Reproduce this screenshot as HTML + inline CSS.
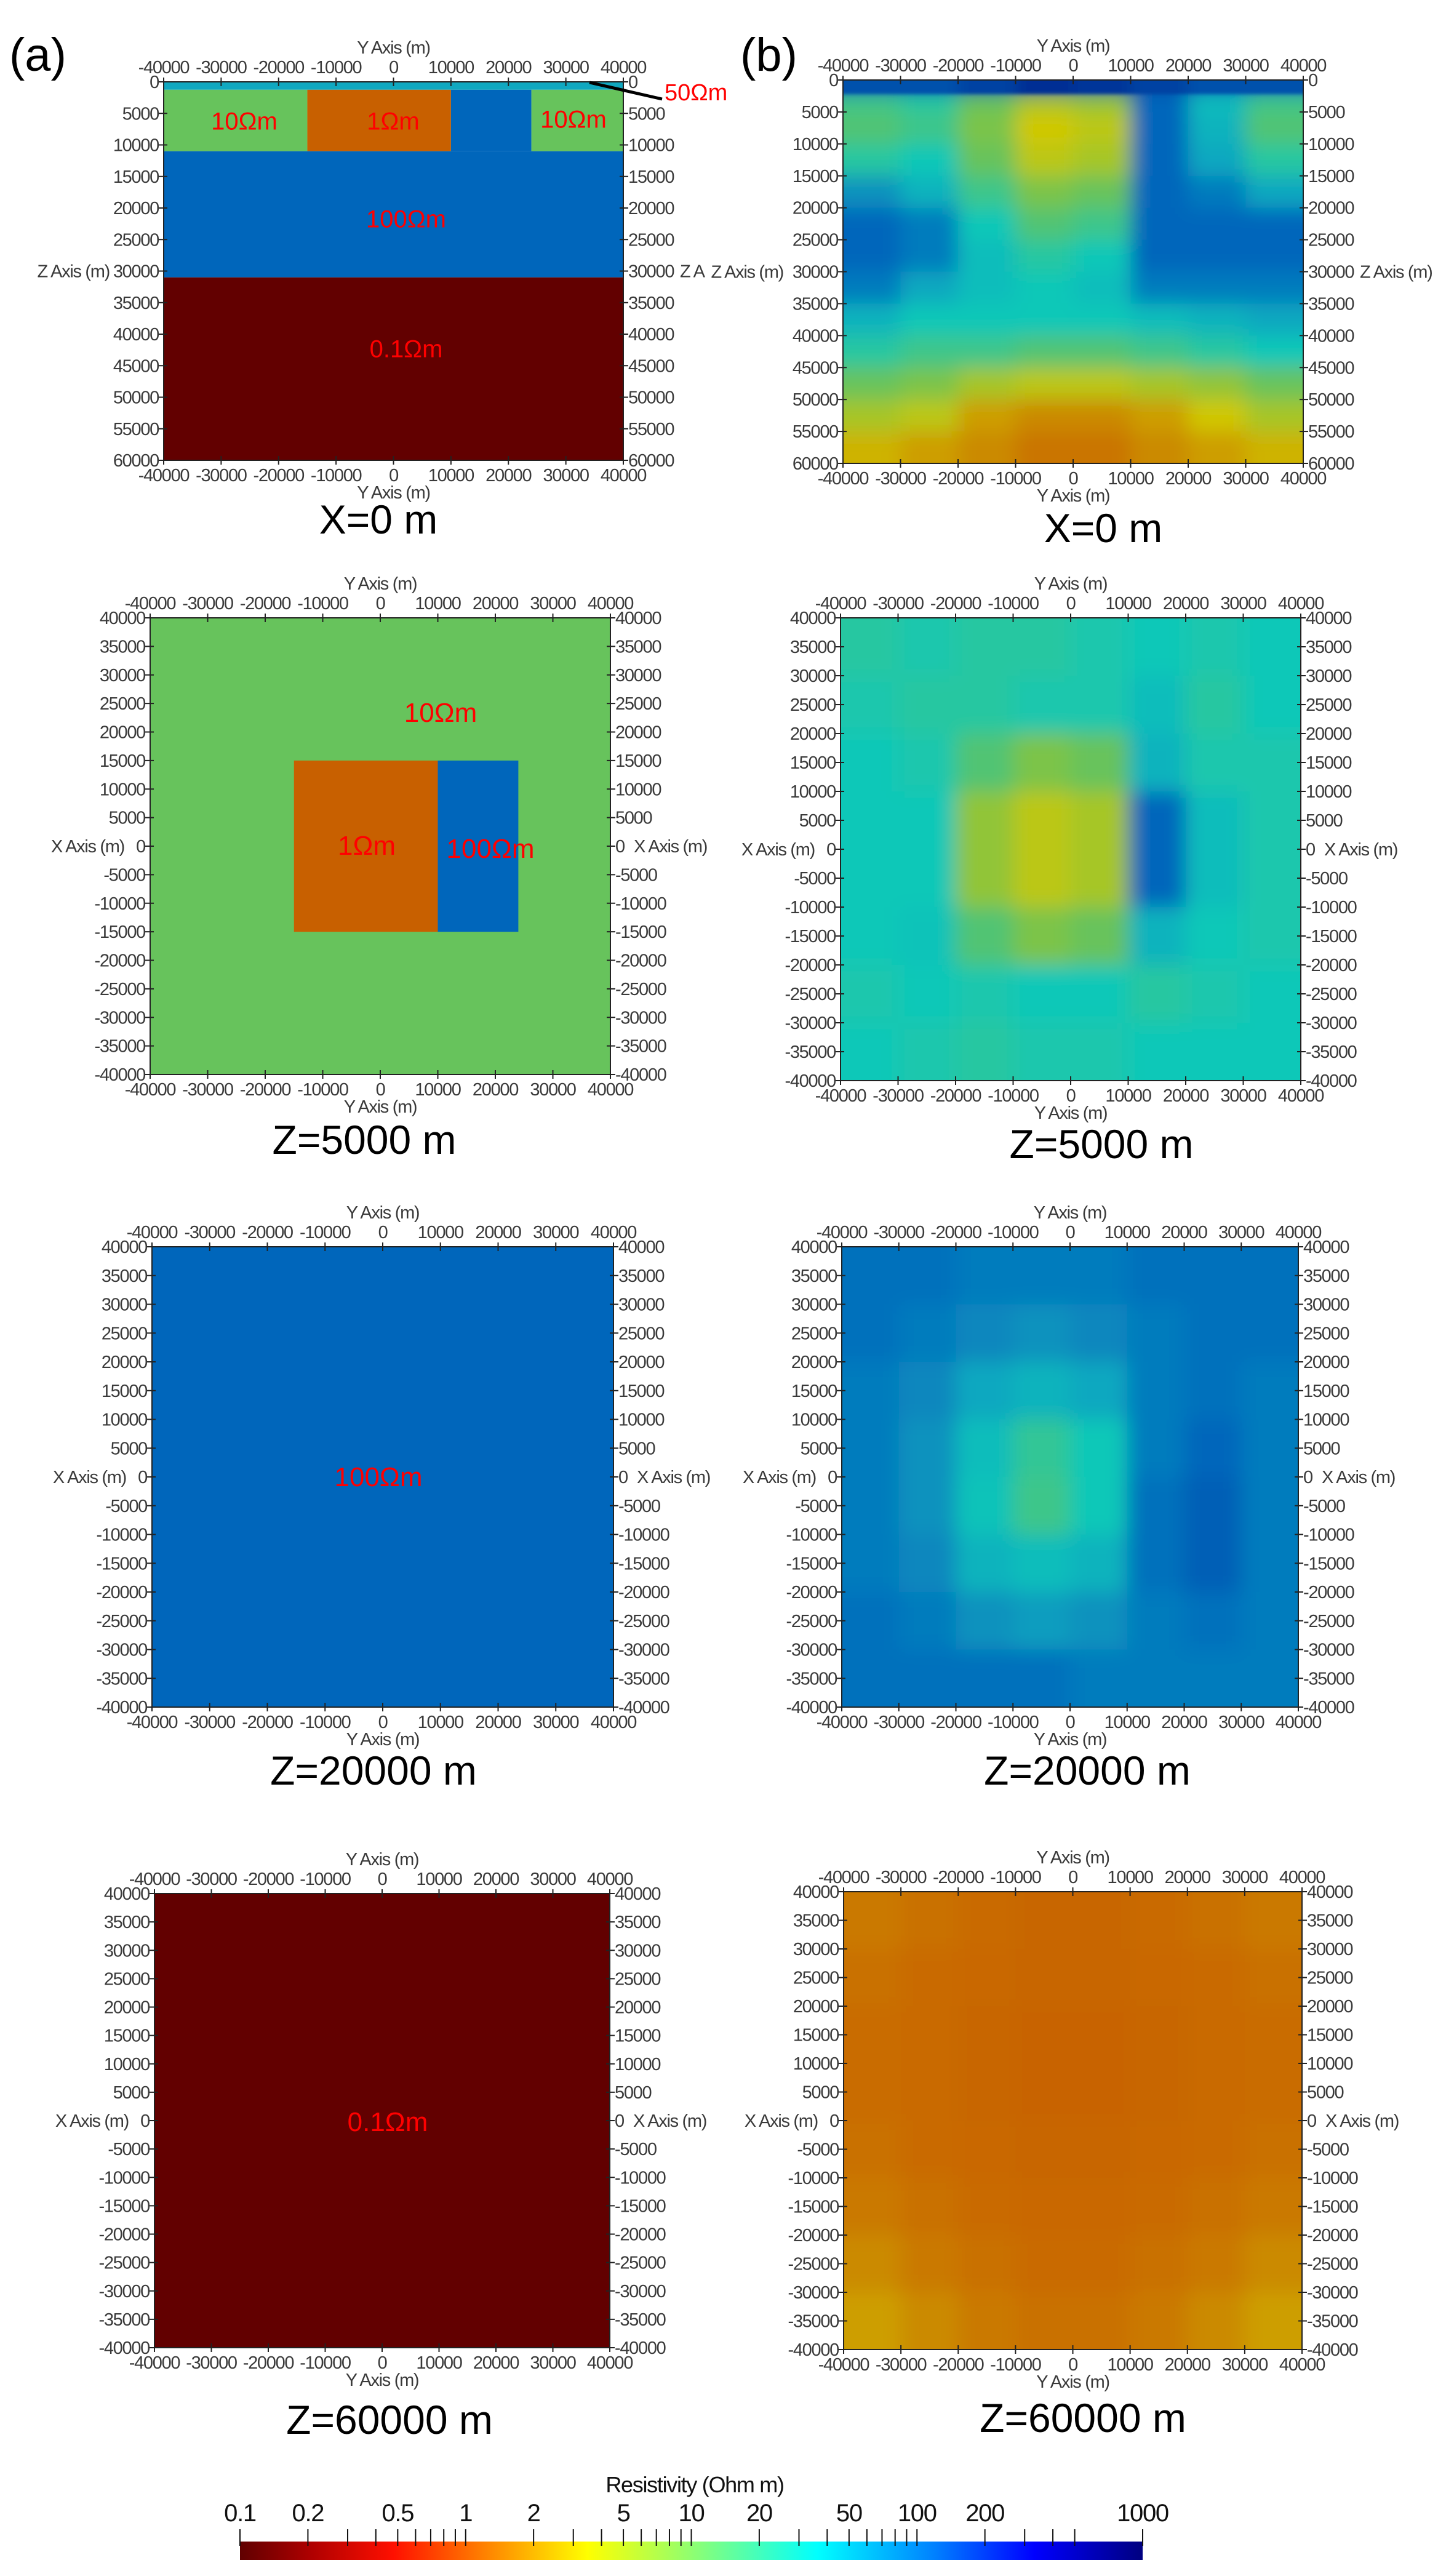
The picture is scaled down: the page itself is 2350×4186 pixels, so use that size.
<!DOCTYPE html>
<html><head><meta charset="utf-8">
<style>
html,body{margin:0;padding:0;background:#fff;}
svg{display:block;}
.tk{font-family:"Liberation Sans Narrow","Liberation Sans",sans-serif;font-size:29px;fill:#3a3a3a;letter-spacing:-1.3px;}
.cap{font-family:"Liberation Sans",sans-serif;font-size:66px;fill:#000;}
.rl{font-family:"Liberation Sans",sans-serif;fill:#ff0000;}
</style></head>
<body>
<svg id="fig" xmlns="http://www.w3.org/2000/svg" width="2350" height="4186" viewBox="0 0 2350 4186">
<defs>
<filter id="blur" x="-10%" y="-10%" width="120%" height="120%"><feGaussianBlur stdDeviation="16"/></filter>
<filter id="blur2" x="-10%" y="-50%" width="120%" height="200%"><feGaussianBlur stdDeviation="12 3"/></filter>
<linearGradient id="jet" x1="0" x2="1" y1="0" y2="0">
<stop offset="0" stop-color="#600000"/><stop offset="0.08" stop-color="#b00000"/><stop offset="0.17" stop-color="#ff1000"/>
<stop offset="0.27" stop-color="#ff8000"/><stop offset="0.385" stop-color="#ffff00"/><stop offset="0.5" stop-color="#90ff70"/>
<stop offset="0.64" stop-color="#00ffff"/><stop offset="0.77" stop-color="#0080ff"/><stop offset="0.88" stop-color="#0000ff"/><stop offset="1" stop-color="#000080"/>
</linearGradient>
</defs>
<text x="15" y="115" style="font-family:'Liberation Sans',sans-serif;font-size:76px">(a)</text>
<text x="1203" y="115" style="font-family:'Liberation Sans',sans-serif;font-size:76px">(b)</text>
</svg>
<script>
// ---- data ----
var yTicks=[-40000,-30000,-20000,-10000,0,10000,20000,30000,40000];
var zTicks=[0,5000,10000,15000,20000,25000,30000,35000,40000,45000,50000,55000,60000];
var xTicks=[40000,35000,30000,25000,20000,15000,10000,5000,0,-5000,-10000,-15000,-20000,-25000,-30000,-35000,-40000];
// model blocks [y0,y1,v0,v1,rho]
var modelX0=[[-40000,40000,0,1250,50],[-40000,-15000,1250,11000,10],[-15000,10000,1250,11000,1],[10000,24000,1250,11000,100],[24000,40000,1250,11000,10],[-40000,40000,11000,31000,100],[-40000,40000,31000,60000,0.1]];
var modelZ5=[[-40000,40000,-40000,40000,10],[-15000,10000,-15000,15000,1],[10000,24000,-15000,15000,100]];
var modelZ20=[[-40000,40000,-40000,40000,100]];
var modelZ60=[[-40000,40000,-40000,40000,0.1]];
// inversion grids (log10 rho)
var colEdges=[-40000,-30000,-20000,-10000,0,10000,20000,30000,40000];
var zEdgesB1=[0,2000,5000,10000,15000,20000,25000,30000,35000,40000,45000,50000,55000,60000];
var xEdges=[40000,30000,20000,10000,0,-10000,-20000,-30000,-40000];
var surfX0=[2.3,2.3,2.5,2.8,2.7,2.5,2.3,2.3];
var invX0=[[2.1,2.1,2.3,2.6,2.5,2.3,2.0,2.0],[1.2,1.3,1.0,0.7,0.8,2.0,1.5,1.2],[1.1,1.2,0.9,0.5,0.6,2.0,1.6,1.1],[1.3,1.4,1.0,0.6,0.7,2.0,1.7,1.3],[1.8,1.6,1.2,0.9,1.0,2.0,1.9,1.7],[2.0,1.9,1.4,1.1,1.2,2.0,2.0,2.0],[2.0,1.9,1.5,1.3,1.4,2.0,2.0,2.0],[1.9,1.7,1.5,1.4,1.5,1.9,1.9,1.9],[1.6,1.4,1.4,1.4,1.4,1.5,1.6,1.7],[1.3,1.2,1.2,1.1,1.1,1.2,1.3,1.4],[1.0,0.9,0.7,0.6,0.6,0.7,0.8,1.0],[0.7,0.6,0.3,0.2,0.2,0.3,0.5,0.7],[0.4,0.3,0.2,0.1,0.1,0.2,0.3,0.4]];
var invZ5=[[1.3,1.35,1.3,1.3,1.35,1.4,1.35,1.4],[1.35,1.3,1.3,1.35,1.35,1.5,1.3,1.4],[1.4,1.35,1.1,0.9,1.0,1.6,1.35,1.35],[1.4,1.4,0.8,0.6,0.7,2.0,1.5,1.35],[1.4,1.4,0.8,0.6,0.7,2.0,1.5,1.35],[1.4,1.45,1.1,0.9,1.0,1.6,1.4,1.35],[1.35,1.4,1.35,1.4,1.4,1.3,1.35,1.4],[1.4,1.35,1.3,1.35,1.35,1.4,1.4,1.4]];
var invZ20=[[1.95,1.95,1.9,1.9,1.9,1.95,1.95,1.95],[1.95,1.9,1.85,1.8,1.85,1.9,1.95,1.95],[1.9,1.85,1.7,1.6,1.7,1.9,1.95,1.9],[1.9,1.8,1.5,1.25,1.4,1.9,2.0,1.9],[1.9,1.8,1.45,1.2,1.4,1.95,2.1,1.9],[1.9,1.85,1.6,1.5,1.6,1.95,2.1,1.9],[1.95,1.9,1.8,1.75,1.8,1.9,1.95,1.9],[1.95,1.95,1.95,1.95,1.9,1.9,1.9,1.9]];
var invZ60=[[0.12,0.08,0.05,0.03,0.03,0.05,0.08,0.12],[0.08,0.05,0.04,0.03,0.03,0.04,0.05,0.08],[0.06,0.05,0.03,0.02,0.02,0.03,0.05,0.06],[0.06,0.05,0.03,0.02,0.02,0.03,0.05,0.06],[0.08,0.05,0.04,0.03,0.03,0.04,0.05,0.08],[0.12,0.08,0.05,0.04,0.04,0.05,0.08,0.12],[0.2,0.12,0.08,0.05,0.05,0.08,0.12,0.2],[0.3,0.2,0.12,0.08,0.08,0.12,0.2,0.3]];
var cbTicks=[0.1,0.2,0.3,0.4,0.5,0.6,0.7,0.8,0.9,1,2,3,4,5,6,7,8,9,10,20,30,40,50,60,70,80,90,100,200,300,400,500,1000];
var cbLabels=[0.1,0.2,0.5,1,2,5,10,20,50,100,200,1000];

// ---- helpers ----
var NS="http://www.w3.org/2000/svg", svg=document.getElementById('fig');
function mk(tag,attrs,parent){var e=document.createElementNS(NS,tag);for(var k in attrs)e.setAttribute(k,attrs[k]);(parent||svg).appendChild(e);return e;}
var stops=[[-1,[98,0,0]],[0,[200,96,0]],[0.5,[208,200,0]],[1,[103,195,92]],[1.4,[16,200,184]],[1.7,[16,168,192]],[2,[0,102,187]],[3,[0,32,138]]];
function cmap(l){if(l<=stops[0][0])return rgb(stops[0][1]);for(var i=1;i<stops.length;i++){if(l<=stops[i][0]){var a=stops[i-1],b=stops[i],t=(l-a[0])/(b[0]-a[0]);return rgb([0,1,2].map(function(j){return a[1][j]+(b[1][j]-a[1][j])*t;}));}}return rgb(stops[stops.length-1][1]);}
function rgb(c){return 'rgb('+c.map(function(v){return Math.round(v)}).join(',')+')';}
function fmt(v){return String(v);}

function panel(p){
  var sx=function(y){return p.L+(y+40000)/80000*(p.R-p.L);};
  var sy=p.vert==='z'?function(z){return p.T+z/60000*(p.B-p.T);}:function(x){return p.T+(40000-x)/80000*(p.B-p.T);};
  var g=mk('g',{});
  
  
  var clip=mk('clipPath',{id:'c'+p.name},g);mk('rect',{x:p.L,y:p.T,width:p.R-p.L,height:p.B-p.T},clip);
  if(p.blocks){
    var bg=mk('g',{'clip-path':'url(#c'+p.name+')'},g);
    p.blocks.forEach(function(b){
      var r=mk('rect',{x:sx(b[0]),y:Math.min(sy(b[2]),sy(b[3])),width:sx(b[1])-sx(b[0]),height:Math.abs(sy(b[3])-sy(b[2])),fill:cmap(Math.log10(b[4]))},bg);
      
      
    });
  }
  if(p.grid){
    var cg=mk('g',{'clip-path':'url(#c'+p.name+')'},g);
    var hg=mk('g',{filter:'url(#blur)'},cg);
    var ny=p.grid.length,nx=p.grid[0].length;
    for(var i=0;i<ny;i++)for(var j=0;j<nx;j++){
      var x0=sx(colEdges[j]),x1=sx(colEdges[j+1]);
      var y0=sy(p.rows[i]),y1=sy(p.rows[i+1]);
      if(j===0)x0-=50;if(j===nx-1)x1+=50;
      var ya=Math.min(y0,y1),yb=Math.max(y0,y1);
      if(i===0)ya-=50;if(i===ny-1)yb+=50;
      var c=mk('rect',{x:x0,y:ya,width:x1-x0+0.5,height:yb-ya+0.5,fill:cmap(p.grid[i][j])},hg);
      
      
    }
    if(p.surface){
      var sg=mk('g',{filter:'url(#blur2)'},cg);
      for(var k=0;k<p.surface.length;k++){
        var xa=sx(colEdges[k]),xb=sx(colEdges[k+1]);
        if(k===0)xa-=40;if(k===p.surface.length-1)xb+=40;
        var s=mk('rect',{x:xa,y:p.T-10,width:xb-xa+0.5,height:sy(p.surfDepth)-p.T+10,fill:cmap(p.surface[k])},sg);
        
        
      }
    }
  }
  mk('rect',{x:p.L,y:p.T,width:p.R-p.L,height:p.B-p.T,fill:'none',stroke:'#222','stroke-width':2},g);
  yTicks.forEach(function(v){
    var x=sx(v);
    mk('line',{x1:x,y1:p.T-7,x2:x,y2:p.T+7,stroke:'#222','stroke-width':2},g);
    mk('line',{x1:x,y1:p.B-7,x2:x,y2:p.B+7,stroke:'#222','stroke-width':2},g);
    var t=mk('text',{x:x,y:p.T-14,'text-anchor':'middle','class':'tk'},g);t.textContent=fmt(v);
    
    
    var t2=mk('text',{x:x,y:p.B+34,'text-anchor':'middle','class':'tk'},g);t2.textContent=fmt(v);
    
    
  });
  var tt=mk('text',{x:(p.L+p.R)/2,y:p.T-46,'text-anchor':'middle','class':'tk'},g);tt.textContent='Y Axis (m)';
  
  
  var bt=mk('text',{x:(p.L+p.R)/2,y:p.B+62,'text-anchor':'middle','class':'tk'},g);bt.textContent='Y Axis (m)';
  
  
  var vt=p.vert==='z'?zTicks:xTicks;
  vt.forEach(function(v){
    var y=sy(v);
    mk('line',{x1:p.L-8,y1:y,x2:p.L+6,y2:y,stroke:'#222','stroke-width':2},g);
    mk('line',{x1:p.R-6,y1:y,x2:p.R+8,y2:y,stroke:'#222','stroke-width':2},g);
    var a=mk('text',{x:p.L-8,y:y+10,'text-anchor':'end','class':'tk'},g);a.textContent=fmt(v);
    
    
    var b=mk('text',{x:p.R+8,y:y+10,'class':'tk'},g);b.textContent=fmt(v);
    
    
  });
  var ty=p.vert==='z'?sy(30000):sy(0);
  var lt=mk('text',{x:p.L-p.lt,y:ty+10,'text-anchor':'end','class':'tk'},g);lt.textContent=p.vert==='z'?'Z Axis (m)':'X Axis (m)';
  
  
  var rt=mk('text',{x:p.R+p.rt,y:ty+10,'class':'tk'},g);rt.textContent=p.rtText||(p.vert==='z'?'Z Axis (m)':'X Axis (m)');
  
  
  var cp=mk('text',{x:p.cx,y:p.cy+24,'text-anchor':'middle','class':'cap'},g);cp.textContent=p.cap;
  
  
  (p.labels||[]).forEach(function(l){
    var t=mk('text',{x:l[0],y:l[1]+l[3]*0.36,'text-anchor':'middle','class':'rl','font-size':l[3]},g);t.textContent=l[2];
    
    
  });
}

panel({name:'model-x0',L:266,R:1013,T:133,B:748,vert:'z',blocks:modelX0,lt:88,rt:92,rtText:'Z A',cap:'X=0 m',cx:615,cy:843,
  labels:[[397,196,'10Ωm',40],[639,196,'1Ωm',40],[932,193,'10Ωm',40],[660,355,'100Ωm',40],[660,566,'0.1Ωm',40]]});
panel({name:'inversion-x0',L:1370,R:2118,T:130,B:753,vert:'z',grid:invX0,rows:zEdgesB1,surface:surfX0,surfDepth:2200,lt:97,rt:92,cap:'X=0 m',cx:1793,cy:857});
panel({name:'model-z5000',L:244,R:992,T:1004,B:1746,vert:'x',blocks:modelZ5,lt:42,rt:38,cap:'Z=5000 m',cx:592,cy:1851,
  labels:[[716,1157,'10Ωm',44],[596,1373,'1Ωm',44],[797,1378,'100Ωm',44]]});
panel({name:'inversion-z5000',L:1366,R:2114,T:1004,B:1756,vert:'x',grid:invZ5,rows:xEdges,lt:42,rt:38,cap:'Z=5000 m',cx:1790,cy:1858});
panel({name:'model-z20000',L:247,R:997,T:2026,B:2774,vert:'x',blocks:modelZ20,lt:42,rt:38,cap:'Z=20000 m',cx:607,cy:2876,
  labels:[[615,2399,'100Ωm',44]]});
panel({name:'inversion-z20000',L:1368,R:2110,T:2026,B:2774,vert:'x',grid:invZ20,rows:xEdges,lt:42,rt:38,cap:'Z=20000 m',cx:1767,cy:2876});
panel({name:'model-z60000',L:251,R:991,T:3077,B:3815,vert:'x',blocks:modelZ60,lt:42,rt:38,cap:'Z=60000 m',cx:633,cy:3931,
  labels:[[630,3447,'0.1Ωm',44]]});
panel({name:'inversion-z60000',L:1371,R:2116,T:3074,B:3818,vert:'x',grid:invZ60,rows:xEdges,lt:42,rt:38,cap:'Z=60000 m',cx:1760,cy:3928});

var ln=mk('line',{x1:958,y1:134,x2:1076,y2:161,stroke:'#000','stroke-width':5});


var s50=mk('text',{x:1080,y:163,'class':'rl','font-size':38});s50.textContent='50Ωm';



var CL=390,CR=1857;
function cbx(v){return CL+(Math.log10(v)+1)/4*(CR-CL);}
var cb=mk('g',{});


mk('rect',{x:CL,y:4130,width:CR-CL,height:30,fill:'url(#jet)'},cb);
cbTicks.forEach(function(v){mk('line',{x1:cbx(v),y1:4110,x2:cbx(v),y2:4137,stroke:'#111','stroke-width':2},cb);});
cbLabels.forEach(function(v){
  var t=mk('text',{x:cbx(v),y:4097,'text-anchor':'middle','class':'tk',style:'fill:#111;font-size:40px'},cb);t.textContent=fmt(v);
  
  
});
var ct=mk('text',{x:1129,y:4050,'text-anchor':'middle','class':'tk',style:'fill:#111;font-size:36px'},cb);ct.textContent='Resistivity (Ohm m)';


</script>
</body></html>
